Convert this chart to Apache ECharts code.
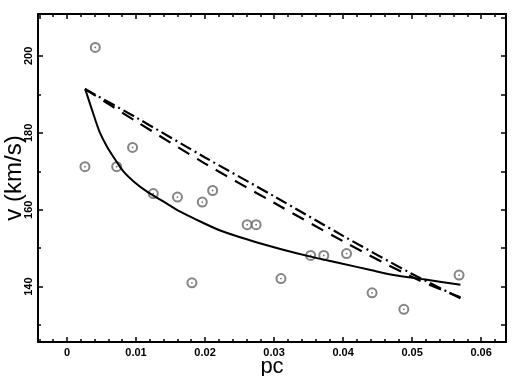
<!DOCTYPE html>
<html>
<head>
<meta charset="utf-8">
<script src="https://cdn.jsdelivr.net/npm/echarts@6/dist/echarts.min.js"></script>
<style>
html,body{margin:0;padding:0;background:#fff}
#chart{width:521px;height:376px}
</style>
</head>
<body>
<div id="chart"></div>
<script>
// observed points (pc, km/s)
const obsPc = [0.0041, 0.0026, 0.0072, 0.0095, 0.0125, 0.0160, 0.0196, 0.0211, 0.0261, 0.0274, 0.0181, 0.0310, 0.0353, 0.0372, 0.0405, 0.0442, 0.0488, 0.0568];
const obsV  = [202.2, 171.2, 171.2, 176.2, 164.2, 163.3, 162.0, 165.0, 156.1, 156.1, 141.0, 142.1, 148.1, 148.1, 148.6, 138.4, 134.1, 143.0];

// model curves
const solidPc = [0.00265, 0.0041, 0.0048, 0.0058, 0.0070, 0.0082, 0.0097, 0.0116, 0.0140, 0.0164, 0.0183, 0.0222, 0.0266, 0.0309, 0.0353, 0.0396, 0.0440, 0.0473, 0.0517, 0.0570];
const solidV  = [191.3, 183.4, 179.9, 176.4, 173.0, 169.9, 167.3, 164.7, 162.1, 159.5, 157.8, 154.6, 152.0, 149.8, 147.8, 146.1, 144.3, 143.0, 141.9, 140.5];
const dashPc = [0.0026, 0.01, 0.02, 0.03, 0.04, 0.05, 0.057];
const dashV  = [191.4, 183.0, 172.0, 161.8, 151.8, 142.5, 137.2];
const dotDashPc = [0.0026, 0.01, 0.02, 0.03, 0.04, 0.05, 0.057];
const dotDashV  = [191.4, 184.0, 173.6, 163.5, 153.2, 143.3, 137.0];

// ticks
const xMajor = [0, 0.01, 0.02, 0.03, 0.04, 0.05, 0.06];
const xMinor = [-0.004, -0.002, 0.002, 0.004, 0.006, 0.008, 0.012, 0.014, 0.016, 0.018, 0.022, 0.024, 0.026, 0.028,
  0.032, 0.034, 0.036, 0.038, 0.042, 0.044, 0.046, 0.048, 0.052, 0.054, 0.056, 0.058, 0.062];
const yMajor = [140, 160, 180, 200];
const yMinor = [130, 150, 170, 190, 210];

const xMin = -0.0042, xMax = 0.0636;
const yMin = 125.6, yMax = 210.9;

function zip(a, b) { return a.map((v, i) => [v, b[i]]); }

function axis(pos, min, max, ticks, len, main) {
  return {
    type: 'value', min: min, max: max, position: pos,
    axisLine: { show: main, onZero: false, lineStyle: { color: '#000', width: 2 } },
    axisTick: { inside: true, length: len, customValues: ticks, lineStyle: { color: '#000', width: 1.5 } },
    axisLabel: { show: false },
    splitLine: { show: false }
  };
}

const xBottom = axis('bottom', xMin, xMax, xMajor, 5, true);
xBottom.axisLabel = {
  show: true, customValues: xMajor, margin: 5,
  fontFamily: 'Liberation Sans', fontWeight: 'bold', fontSize: 11, color: '#000',
  formatter: v => String(+(+v).toFixed(2))
};
xBottom.name = 'pc';
xBottom.nameLocation = 'middle';
xBottom.nameGap = 14;
xBottom.nameMoveOverlap = false;
xBottom.nameTextStyle = { fontFamily: 'Liberation Sans', fontSize: 22, color: '#000' };

const yLeft = axis('left', yMin, yMax, yMajor, 5, true);
yLeft.axisLabel = {
  show: true, customValues: yMajor, margin: 4, rotate: 90,
  fontFamily: 'Liberation Sans', fontWeight: 'bold', fontSize: 11, color: '#000'
};
yLeft.name = 'v (km/s)';
yLeft.nameLocation = 'middle';
yLeft.nameGap = 12;
yLeft.nameMoveOverlap = false;
yLeft.nameTextStyle = { fontFamily: 'Liberation Sans', fontSize: 24, color: '#000' };

const chart = echarts.init(document.getElementById('chart'));
chart.setOption({
  animation: false,
  backgroundColor: '#fff',
  grid: { left: 38, right: 15, top: 14, bottom: 34, containLabel: false, outerBoundsMode: 'none' },
  xAxis: [
    xBottom,
    axis('bottom', xMin, xMax, xMinor, 3, false),
    axis('top', xMin, xMax, xMajor, 5, true),
    axis('top', xMin, xMax, xMinor, 3, false)
  ],
  yAxis: [
    yLeft,
    axis('left', yMin, yMax, yMinor, 3, false),
    axis('right', yMin, yMax, yMajor, 5, true),
    axis('right', yMin, yMax, yMinor, 5, false)
  ],
  series: [
    {
      type: 'scatter', data: zip(obsPc, obsV),
      symbol: 'emptyCircle', symbolSize: 9,
      itemStyle: { color: '#666', borderWidth: 1 }
    },
    {
      type: 'scatter', data: zip(obsPc, obsV),
      symbol: 'circle', symbolSize: 1.8,
      itemStyle: { color: '#555' }
    },
    {
      type: 'line', data: zip(solidPc, solidV), symbol: 'none',
      smooth: 0.3,
      lineStyle: { color: '#000', width: 2 }
    },
    {
      type: 'line', data: zip(dashPc, dashV), symbol: 'none',
      smooth: 0.3,
      lineStyle: { color: '#000', width: 2.2, type: [13, 9] }
    },
    {
      type: 'line', data: zip(dotDashPc, dotDashV), symbol: 'none',
      smooth: 0.3,
      lineStyle: { color: '#000', width: 2.2, type: [12, 4, 2, 4] }
    }
  ]
});
</script>
</body>
</html>
